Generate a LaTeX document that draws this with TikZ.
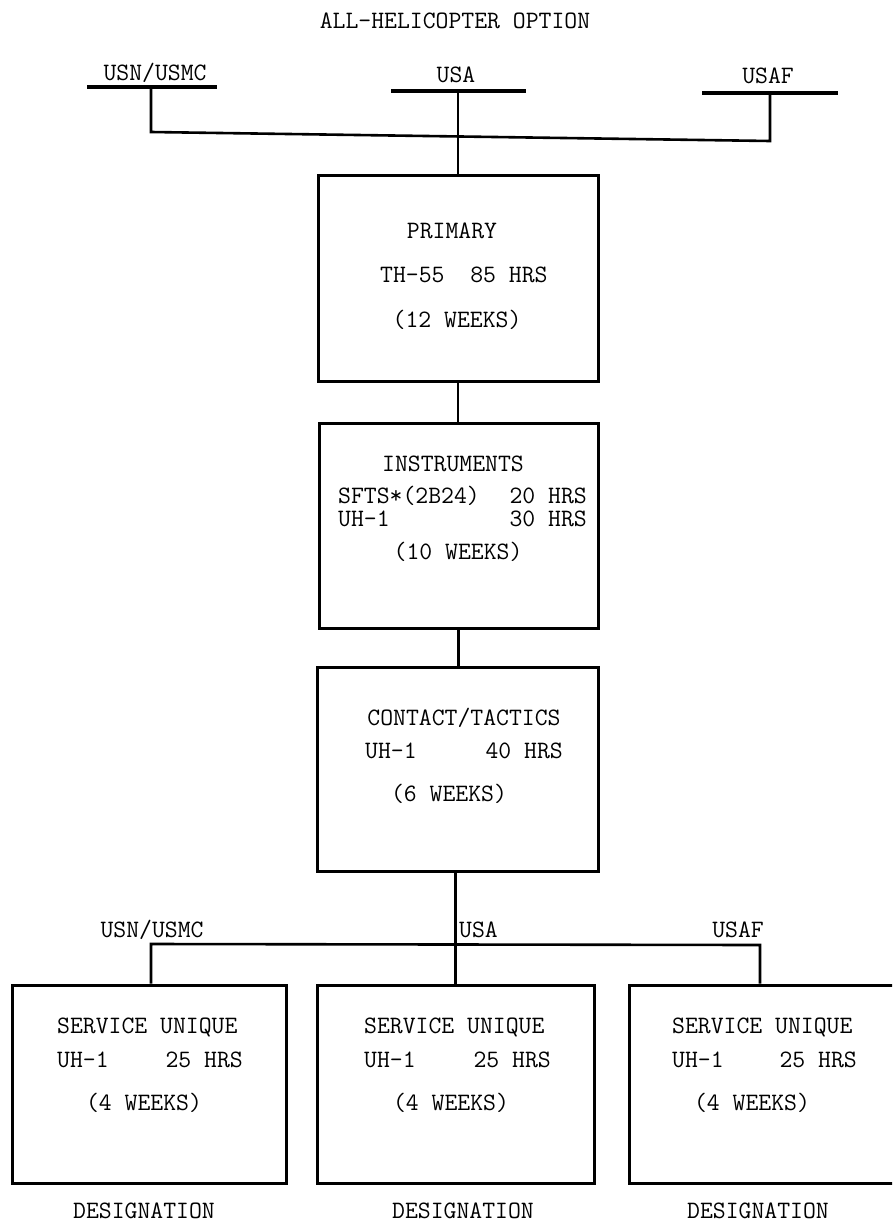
\documentclass[tikz,border=0pt]{standalone}
\usepackage{fontspec}
\begin{document}
\begin{tikzpicture}[x=1pt,y=-1pt,
  txt/.style={font=\ttfamily\fontsize{25}{30}\selectfont, inner sep=0pt},
  boxn/.style={draw, line width=3pt, inner sep=0pt},
  conn/.style={line width=2.6pt},
  uline/.style={line width=3.6pt}]
\useasboundingbox (0,0) rectangle (892,1226);
\clip (0,0) rectangle (892,1226);

% title
\node[txt, anchor=base] (title) at (455,28) {ALL-HELICOPTER OPTION};

% top service labels
\node[txt, anchor=base] (tusn) at (155,80) {USN/USMC};
\node[txt, anchor=base] (tusa) at (456,82) {USA};
\node[txt, anchor=base] (tusaf) at (768,83) {USAF};
\coordinate (u1a) at (87,87);  \coordinate (u1b) at (217,87);
\coordinate (u2a) at (391,91); \coordinate (u2b) at (526,91);
\coordinate (u3a) at (702,93); \coordinate (u3b) at (838,93);
\draw[uline] (u1a) -- (u1b);
\draw[uline] (u2a) -- (u2b);
\draw[uline] (u3a) -- (u3b);
\coordinate (tl) at (151,132);
\coordinate (tr) at (770,141);

% boxes
\node[boxn, minimum width=280pt, minimum height=206pt] (primary) at (458,278) {};
\node[boxn, minimum width=279pt, minimum height=205pt] (instr) at (458.5,525.5) {};
\node[boxn, minimum width=281pt, minimum height=204pt] (contact) at (457.5,769) {};
\node[boxn, minimum width=274pt, minimum height=198pt] (lbox) at (149,1084) {};
\node[boxn, minimum width=277pt, minimum height=198pt] (mbox) at (455.5,1084) {};
\node[boxn, minimum width=276pt, minimum height=198pt] (rbox) at (767,1084) {};

% top connectors
\draw[conn] (u1a -| tl) -- (tl) -- (tr) -- (u3a -| tr);
\draw[conn] (primary.north |- u2a) -- (primary.north);
\draw[conn] (primary.south) -- (primary.south |- instr.north);
\draw[conn] (instr.south) -- (instr.south |- contact.north);

% bottom connectors
\coordinate (bl) at (151,944);
\coordinate (br) at (760,945);
\draw[conn] (lbox.north -| bl) -- (bl) -- (br) -- (rbox.north -| br);
\draw[conn] (contact.south -| mbox.north) -- (mbox.north);

% PRIMARY text
\node[txt, anchor=base] (p1) at (452,238) {PRIMARY};
\node[txt, anchor=base west] (p2) at (380,282) {TH-55\ \ 85 HRS};
\node[txt, anchor=base] (p3) at (457,327) {(12 WEEKS)};

% INSTRUMENTS text
\node[txt, anchor=base] (i1) at (453,471) {INSTRUMENTS};
\node[txt, anchor=base west] (i2) at (338,503) {SFTS*(2B24)};
\node[txt, anchor=base east] (i2r) at (587,503) {20 HRS};
\node[txt, anchor=base west] (i3) at (338,526) {UH-1};
\node[txt, anchor=base east] (i3r) at (587,526) {30 HRS};
\node[txt, anchor=base] (i4) at (458,559) {(10 WEEKS)};

% CONTACT text
\node[txt, anchor=base] (c1) at (464,725) {CONTACT/TACTICS};
\node[txt, anchor=base west] (c2) at (365,758) {UH-1};
\node[txt, anchor=base east] (c2r) at (563,758) {40 HRS};
\node[txt, anchor=base] (c3) at (449,801) {(6 WEEKS)};

% bottom labels
\node[txt, anchor=base] (busn) at (152,937) {USN/USMC};
\node[txt, anchor=base west] (busa) at (459,937) {USA};
\node[txt, anchor=base] (busaf) at (738,937) {USAF};

% service unique boxes text
\node[txt, anchor=base west] (l1) at (57,1033) {SERVICE UNIQUE};
\node[txt, anchor=base west] (l2) at (57,1067) {UH-1};
\node[txt, anchor=base east] (l2r) at (243,1067) {25 HRS};
\node[txt, anchor=base] (l3) at (144,1110) {(4 WEEKS)};

\node[txt, anchor=base west] (m1) at (364,1033) {SERVICE UNIQUE};
\node[txt, anchor=base west] (m2) at (364,1067) {UH-1};
\node[txt, anchor=base east] (m2r) at (551,1067) {25 HRS};
\node[txt, anchor=base] (m3) at (451,1110) {(4 WEEKS)};

\node[txt, anchor=base west] (r1) at (672,1033) {SERVICE UNIQUE};
\node[txt, anchor=base west] (r2) at (672,1067) {UH-1};
\node[txt, anchor=base east] (r2r) at (857,1067) {25 HRS};
\node[txt, anchor=base] (r3) at (752,1110) {(4 WEEKS)};

% designation labels
\node[txt, anchor=base] (d1) at (144,1218) {DESIGNATION};
\node[txt, anchor=base] (d2) at (463,1218) {DESIGNATION};
\node[txt, anchor=base] (d3) at (758,1218) {DESIGNATION};
\end{tikzpicture}
\end{document}
